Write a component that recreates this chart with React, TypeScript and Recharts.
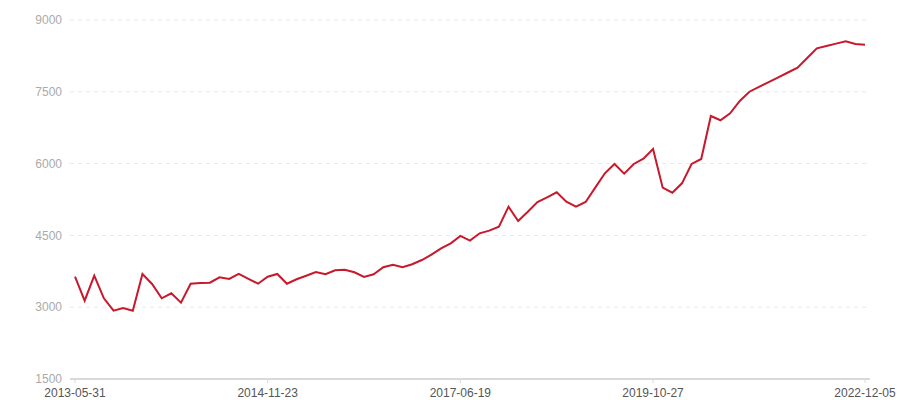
import React from 'react'
import { LineChart, Line, XAxis, YAxis, CartesianGrid } from 'recharts'

// labels shown on the x axis, keyed by point index
const tickIndexes = [0, 20, 40, 60, 82]
const tickLabels = ['2013-05-31', '2014-11-23', '2017-06-19', '2019-10-27', '2022-12-05']

const values = [
  3637, 3136, 3658, 3186, 2927, 2984, 2927, 3694, 3485, 3186,
  3291, 3095, 3491, 3506, 3512, 3625, 3590, 3694, 3590, 3491,
  3637, 3694, 3491, 3583, 3658, 3736, 3688, 3771, 3784, 3729,
  3631, 3688, 3834, 3888, 3834, 3897, 3986, 4097, 4230, 4335,
  4488, 4390, 4544, 4599, 4682, 5100, 4801, 4996, 5198, 5296,
  5400, 5205, 5100, 5198, 5497, 5797, 5992, 5789, 5992, 6103,
  6305, 5497, 5392, 5588, 5992, 6096, 6995, 6905, 7051, 7308,
  7502, 7602, 7703, 7803, 7903, 8004, 8206, 8409, 8458, 8506,
  8555, 8499, 8485,
]

const yTicks = [1500, 3000, 4500, 6000, 7500, 9000]

const data = values.map((v, i) => ({ i, v }))

export default function App() {
  return (
    <div style={{ position: 'absolute', left: 0, top: 0, fontFamily: 'Liberation Sans, Arial, sans-serif' }}>
      <LineChart width={900} height={400} data={data} margin={{ top: 20, right: 30, bottom: 0, left: 0 }}>
        <CartesianGrid vertical={false} stroke="#e8e8e8" strokeDasharray="4 4" />
        <XAxis
          dataKey="i"
          type="number"
          domain={[0, 82]}
          ticks={tickIndexes}
          tickFormatter={(i) => tickLabels[tickIndexes.indexOf(i)]}
          padding={{ left: 5, right: 5 }}
          height={21}
          tickSize={4}
          tickMargin={5}
          axisLine={{ stroke: '#d9d9d9', strokeWidth: 2 }}
          tickLine={{ stroke: '#d9d9d9' }}
          tick={{ fill: '#555', fontSize: 12 }}
          interval={0}
        />
        <YAxis
          domain={[1500, 9000]}
          ticks={yTicks}
          width={70}
          axisLine={false}
          tickLine={false}
          tickSize={0}
          tickMargin={8}
          tick={{ fill: '#aaa', fontSize: 12 }}
        />
        <Line
          type="linear"
          dataKey="v"
          stroke="#c8182c"
          strokeWidth={2}
          dot={false}
          isAnimationActive={false}
        />
      </LineChart>
    </div>
  )
}
